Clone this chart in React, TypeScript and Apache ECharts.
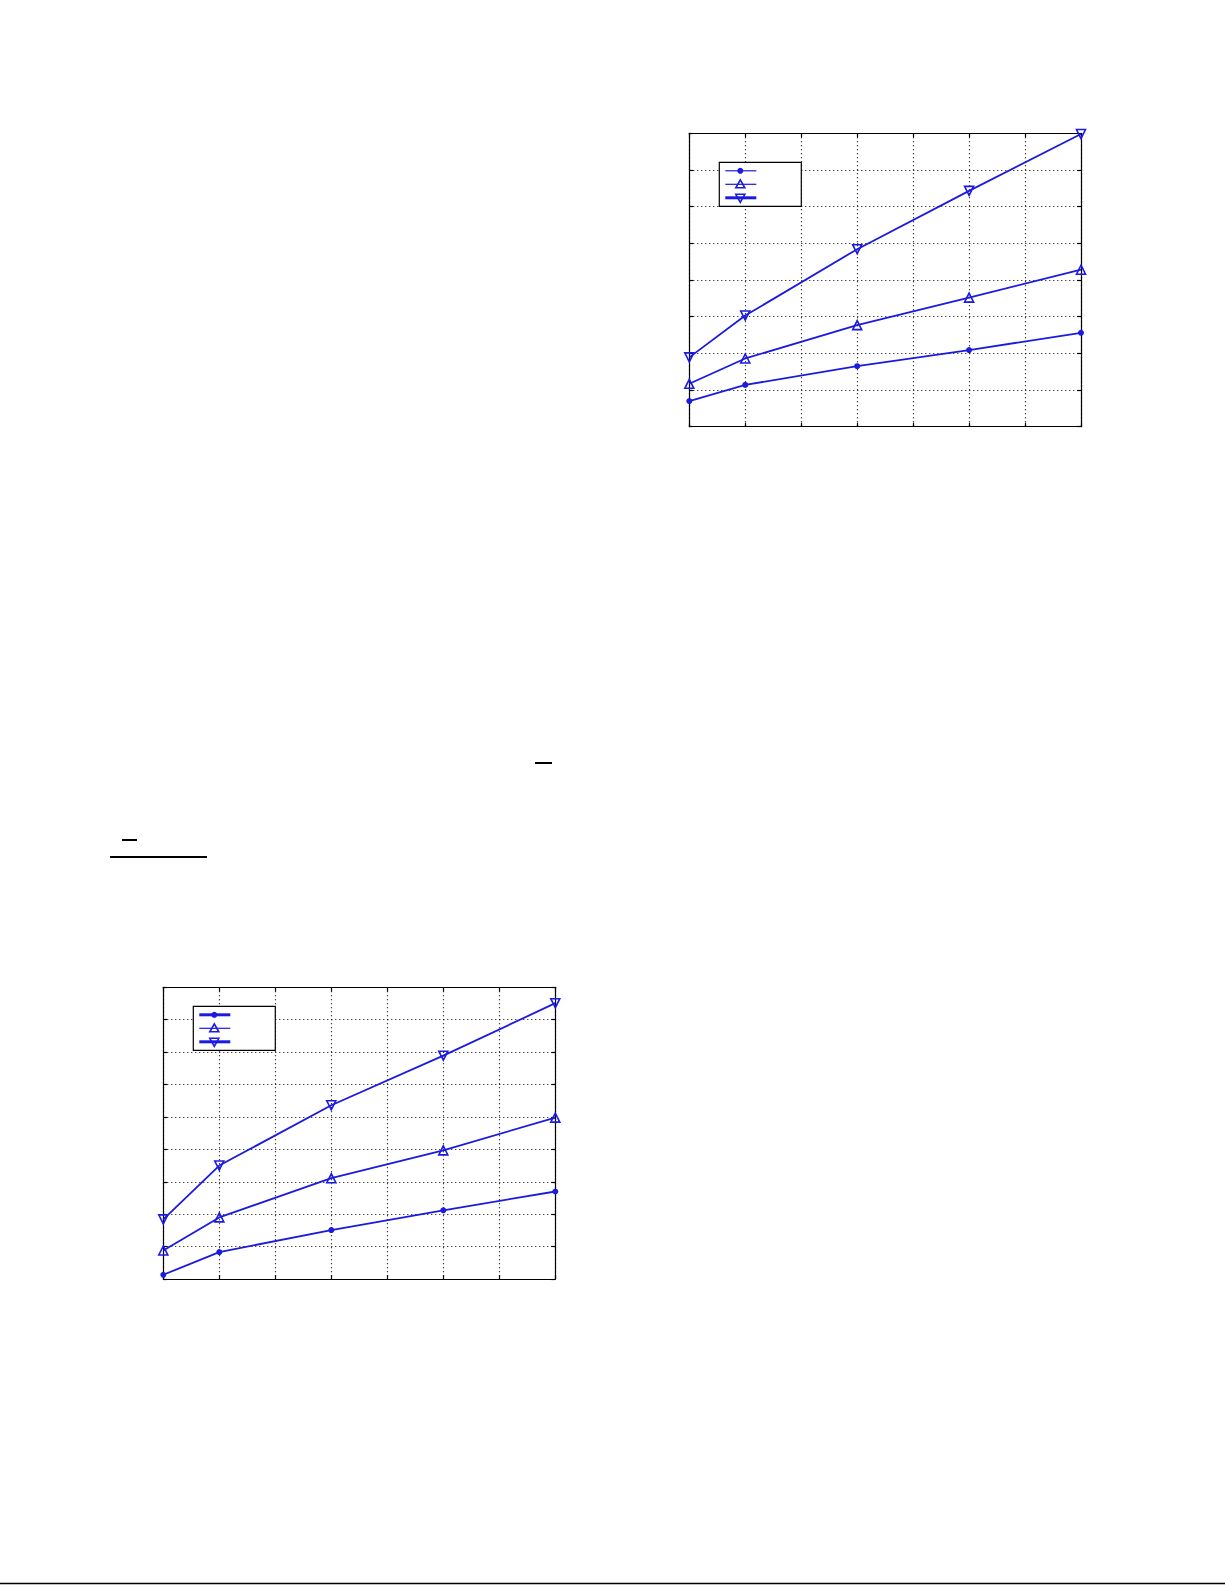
import React, { useEffect, useRef } from 'react';
import * as echarts from 'echarts';

// x positions of the samples (grid units, 0..7)
const xPos = [0, 1, 3, 5, 7];

// upper chart
const top1 = [0.70, 1.14, 1.65, 2.09, 2.56];
const top2 = [1.17, 1.86, 2.77, 3.52, 4.28];
const top3 = [1.89, 3.03, 4.84, 6.43, 7.98];

// lower chart
const bot1 = [0.13, 0.83, 1.51, 2.12, 2.70];
const bot2 = [0.88, 1.90, 3.11, 3.97, 4.98];
const bot3 = [1.84, 3.50, 5.36, 6.89, 8.51];

const BLUE = '#1a1ae0';

const pairs = (ys: number[]) => xPos.map((x, i) => [x, ys[i]]);

const dotted = { show: true, lineStyle: { color: '#000', type: [1, 3] as number[], width: 1.2 } };
const blackLine = { show: true, onZero: false, lineStyle: { color: '#000', width: 1.2 } };
const innerTick = { show: true, inside: true, length: 4, lineStyle: { color: '#000', width: 1.2 } };

const makeAxes = (gridIndex: number, yMax: number) => {
  const xs = [
    { type: 'value', gridIndex, min: 0, max: 7, interval: 1, position: 'bottom',
      axisLine: blackLine, axisTick: innerTick, axisLabel: { show: false }, splitLine: dotted },
    { type: 'value', gridIndex, min: 0, max: 7, interval: 1, position: 'top',
      axisLine: blackLine, axisTick: innerTick, axisLabel: { show: false }, splitLine: { show: false } },
  ];
  const ys = [
    { type: 'value', gridIndex, min: 0, max: yMax, interval: 1, position: 'left',
      axisLine: blackLine, axisTick: innerTick, axisLabel: { show: false }, splitLine: dotted },
    { type: 'value', gridIndex, min: 0, max: yMax, interval: 1, position: 'right',
      axisLine: blackLine, axisTick: innerTick, axisLabel: { show: false }, splitLine: { show: false } },
  ];
  return { xs, ys };
};

const lineSeries = (ys: number[], axisIdx: number, kind: 'dot' | 'up' | 'down') => ({
  type: 'line',
  xAxisIndex: axisIdx,
  yAxisIndex: axisIdx,
  data: pairs(ys),
  clip: false,
  symbol: kind === 'dot' ? 'circle' : 'triangle',
  symbolRotate: kind === 'down' ? 180 : 0,
  symbolSize: kind === 'dot' ? 6 : 9,
  lineStyle: { color: BLUE, width: 1.8 },
  itemStyle: kind === 'dot'
    ? { color: BLUE }
    : { color: 'rgba(255,255,255,0)', borderColor: BLUE, borderWidth: 1.6 },
});

// legend box drawn by hand (the original shows no legend text)
const legendBox = (bx: number, by: number, widths: number[]) => {
  const out: any[] = [
    { type: 'rect', shape: { x: bx, y: by, width: 82, height: 44 },
      style: { fill: '#fff', stroke: '#000', lineWidth: 1.2 }, z: 10 },
  ];
  const rows = [8.5, 22, 35.5];
  rows.forEach((dy, i) => {
    const y = by + dy;
    const cx = bx + 21;
    out.push({ type: 'line', shape: { x1: bx + 6, y1: y, x2: bx + 37, y2: y },
      style: { stroke: BLUE, lineWidth: widths[i] }, z: 11 });
    if (i === 0) {
      out.push({ type: 'circle', shape: { cx, cy: y, r: 3 }, style: { fill: BLUE }, z: 12 });
    } else if (i === 1) {
      out.push({ type: 'polygon', shape: { points: [[cx, y - 4.5], [cx - 4.5, y + 3.5], [cx + 4.5, y + 3.5]] },
        style: { fill: 'none', stroke: BLUE, lineWidth: 1.6 }, z: 12 });
    } else {
      out.push({ type: 'polygon', shape: { points: [[cx, y + 4.5], [cx - 4.5, y - 3.5], [cx + 4.5, y - 3.5]] },
        style: { fill: 'none', stroke: BLUE, lineWidth: 1.6 }, z: 12 });
    }
  });
  return out;
};

const App: React.FC = () => {
  const chartRef = useRef<HTMLDivElement>(null);

  useEffect(() => {
    if (!chartRef.current) return;
    const chart = echarts.init(chartRef.current, null, { renderer: 'svg' });

    const a1 = makeAxes(0, 8);
    const a2 = makeAxes(1, 9);

    const option = {
      animation: false,
      backgroundColor: '#fff',
      grid: [
        { left: 689.3, top: 133.3, width: 391.7, height: 293.4 },
        { left: 163.3, top: 987.3, width: 392, height: 291.7 },
      ],
      xAxis: [...a1.xs, ...a2.xs],
      yAxis: [...a1.ys, ...a2.ys],
      series: [
        lineSeries(top1, 0, 'dot'),
        lineSeries(top2, 0, 'up'),
        lineSeries(top3, 0, 'down'),
        lineSeries(bot1, 2, 'dot'),
        lineSeries(bot2, 2, 'up'),
        lineSeries(bot3, 2, 'down'),
      ],
      graphic: [
        ...legendBox(719.3, 162.3, [1.2, 1.2, 3]),
        ...legendBox(193.3, 1006.3, [3, 1.2, 3]),
        // stray rules left over on the page
        { type: 'line', shape: { x1: 535, y1: 763, x2: 552, y2: 763 }, style: { stroke: '#000', lineWidth: 2 } },
        { type: 'line', shape: { x1: 122, y1: 840, x2: 137, y2: 840 }, style: { stroke: '#000', lineWidth: 2 } },
        { type: 'line', shape: { x1: 110, y1: 857, x2: 207, y2: 857 }, style: { stroke: '#000', lineWidth: 2 } },
        { type: 'line', shape: { x1: 0, y1: 1583.5, x2: 1225, y2: 1583.5 }, style: { stroke: '#000', lineWidth: 1.5 } },
      ],
    };

    chart.setOption(option);
    return () => {
      chart.dispose();
    };
  }, []);

  return (
    <div
      ref={chartRef}
      style={{ position: 'absolute', left: 0, top: 0, width: '1225px', height: '1585px' }}
    ></div>
  );
};

export default App;
